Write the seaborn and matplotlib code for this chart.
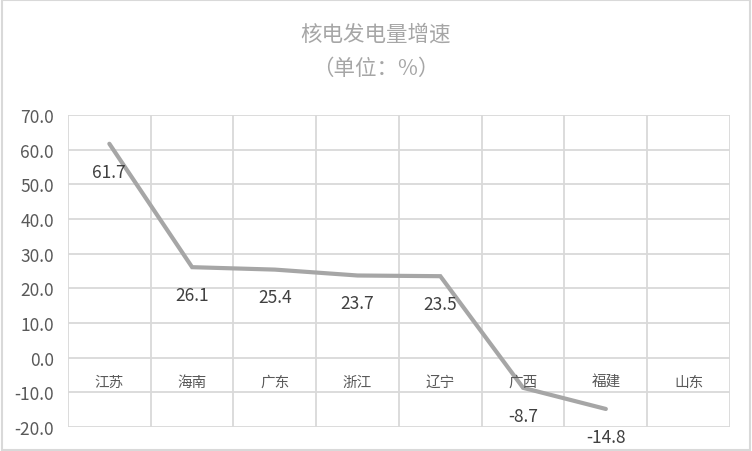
import numpy as np
import pandas as pd
import matplotlib
matplotlib.use("Agg")
import matplotlib.pyplot as plt
import seaborn as sns
from matplotlib.patches import Rectangle

# -------- données --------
provinces = ["江苏", "海南", "广东", "浙江", "辽宁", "广西", "福建", "山东"]
growth = [61.7, 26.1, 25.4, 23.7, 23.5, -8.7, -14.8, np.nan]
y_ticks = [-20, -10, 0, 10, 20, 30, 40, 50, 60, 70]

df = pd.DataFrame({"pos": range(len(provinces)), "province": provinces, "growth": growth})

sns.set_style("white")
plt.rcParams['font.family'] = ['Noto Sans CJK SC', 'DejaVu Sans']
num_font = ['Liberation Sans Narrow', 'Noto Sans CJK SC', 'DejaVu Sans']

fig = plt.figure(figsize=(7.52, 4.52), dpi=100)
ax = fig.add_axes([0.0904, 0.0531, 0.8803, 0.6903])

# -------- courbe --------
sns.lineplot(data=df.dropna(), x="pos", y="growth", ax=ax, color="#a6a6a6",
             linewidth=3, solid_joinstyle="miter")

ax.set_xlim(-0.5, len(provinces) - 0.5)
ax.set_ylim(-20, 70)
ax.set_yticks(y_ticks)
ax.set_yticklabels([f"{v:.1f}" for v in y_ticks], fontsize=12.5, color="#595959",
                   family=num_font)
ax.set_xticks(np.arange(len(provinces) + 1) - 0.5, minor=True)
ax.set_xticks([])
ax.tick_params(axis="y", length=0, pad=10)
ax.set_xlabel("")
ax.set_ylabel("")

# grille
ax.grid(True, which="major", axis="y", color="#d9d9d9", linewidth=1.3)
ax.grid(True, which="minor", axis="x", color="#d9d9d9", linewidth=1.3)
ax.tick_params(axis="x", which="minor", length=0)
ax.set_axisbelow(True)
for s in ax.spines.values():
    s.set_visible(False)

# libellés des catégories (au niveau de l'axe 0)
for i, p in enumerate(provinces):
    ax.text(i, -7.0, p, ha="center", va="center", fontsize=10.5, color="#595959")

# étiquettes de données (sous les points)
for i, v in enumerate(growth):
    if not np.isnan(v):
        ax.annotate(f"{v:.1f}", (i, v), xytext=(0, -20), textcoords="offset points",
                    ha="center", va="center", fontsize=12.5, color="#404040",
                    family=num_font)

# -------- titre --------
fig.text(0.5, 0.923, "核电发电量增速", ha="center", va="center", fontsize=15.5, color="#a6a6a6")
fig.text(0.5, 0.847, "（单位：%）", ha="center", va="center", fontsize=15.5, color="#a6a6a6")

# bordure
fig.patches.append(Rectangle((0.002, 0.003), 0.996, 0.994, transform=fig.transFigure,
                             fill=False, edgecolor="#d9d9d9", linewidth=1.5))

fig.savefig("out.png", dpi=100)
